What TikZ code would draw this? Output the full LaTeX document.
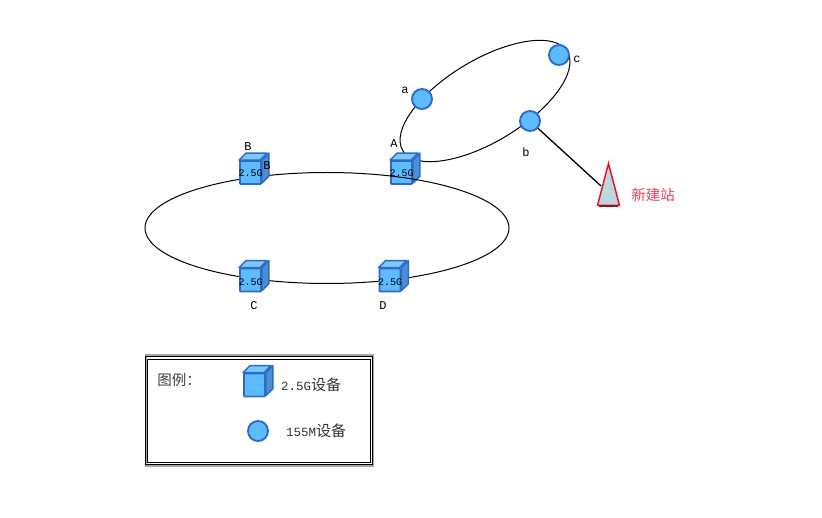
\documentclass[tikz,border=0pt]{standalone}
\usepackage{fontspec}
\setmainfont{Liberation Mono}
\newfontfamily\cjk{Noto Sans CJK SC}
\usetikzlibrary{shapes.geometric}
\definecolor{devline}{HTML}{2F6AC8}
\definecolor{devfill}{HTML}{5DBBFF}
\definecolor{devside}{HTML}{4A90D0}
\definecolor{devtop}{HTML}{7CC8FA}
\definecolor{towerfill}{HTML}{B9D9DE}
\definecolor{towerred}{HTML}{E8142A}
\definecolor{stationred}{HTML}{E8405C}

\newcommand{\cubedev}[3]{
\draw (#1,#2) node[cubefront] (#3) {};
\filldraw[fill=devtop, draw=devline, line width=1.5pt, line join=round] (#3.north west) -- ++(7,-7) -- ++(21,0) -- ++(-7,7) -- cycle;
\filldraw[fill=devside, draw=devline, line width=1.5pt, line join=round] (#3.north east) -- ++(7,-7) -- ++(0,23) -- ++(-7,7) -- cycle;
}

\begin{document}
\begin{tikzpicture}[x=1pt,y=-1pt]
\tikzstyle{every node}=[inner sep=0pt, font=\fontsize{10}{12}\selectfont];
\tikzstyle{cubefront}=[draw=devline, fill=devfill, line width=1.9pt, rounded corners=0.6pt, minimum width=21pt, minimum height=23pt];
\tikzstyle{circledev}=[draw=devline, fill=devfill, shape=circle, line width=1.9pt, minimum size=20pt];
\tikzstyle{ring}=[draw=black, shape=ellipse, line width=1pt];
\tikzstyle{cjklabel}=[font=\cjk\fontsize{14.5}{16}\selectfont, text=black!75];
\tikzstyle{legendlabel}=[font=\fontsize{12.5}{14}\selectfont, text=black!80];
\tikzstyle{letter}=[font=\fontsize{12}{14}\selectfont];

\useasboundingbox (0,0) rectangle (822,518);

\draw (485,101) node[ring, rotate=31, minimum width=192pt, minimum height=82pt] (ring2) {};

\cubedev{401.5}{172.5}{A}

\draw (327,228) node[ring, minimum width=364pt, minimum height=111pt] (ring1) {};

\cubedev{250.5}{172.5}{B}
\cubedev{250.5}{280}{C}
\cubedev{390}{280}{D}

\draw (422,99) node[circledev] (a) {};
\draw (559,55) node[circledev] (c) {};
\draw (530,121) node[circledev] (b) {};

\draw (608.5,197) node[shape=isosceles triangle, shape border rotate=90, isosceles triangle apex angle=29, isosceles triangle stretches, draw=towerred, fill=towerfill, line width=1.5pt, minimum width=22pt, minimum height=42pt] (tower) {};
\coordinate (towerjoin) at (601,186);
\draw[line width=1.3pt] (b) -- (towerjoin);
\draw[towerred!70!black, line width=1.8pt] (tower.south west) -- (tower.south east);

\draw (401.5,173.5) node (tA) {2.5G};
\draw (250.5,173.5) node (tB) {2.5G};
\draw (250.5,282) node (tC) {2.5G};
\draw (390,282) node (tD) {2.5G};

\draw (248,147) node[letter] (lB) {B};
\draw (267,166) node[letter] (lB2) {B};
\draw (394,144) node[letter] (lA) {A};
\draw (254,306) node[letter] (lC) {C};
\draw (383,306) node[letter] (lD) {D};
\draw (405,90) node[letter] (la) {a};
\draw (577,59) node[letter] (lc) {c};
\draw (526,152) node[letter] (lb) {b};

\draw (653,195) node[cjklabel, text=stationred] (station) {新建站};

\draw[black!35, line width=1.5pt] (146,355) -- (373,355) -- (373,466) -- (146,466) -- cycle;
\draw[black, line width=1pt] (145,356.5) rectangle (372,464.5);
\draw[black, line width=0.8pt] (147.5,359) rectangle (370,462);

\draw (179,380) node[cjklabel] (legendtitle) {图例：};
\cubedev{254.5}{385}{legendcube}
\draw (258,431) node[circledev] (legendcircle) {};
\draw (281,385) node[legendlabel, anchor=west] (legend1) {2.5G{\cjk\fontsize{15}{16}\selectfont 设备}};
\draw (286,431) node[legendlabel, anchor=west] (legend2) {155M{\cjk\fontsize{15}{16}\selectfont 设备}};

\end{tikzpicture}
\end{document}
